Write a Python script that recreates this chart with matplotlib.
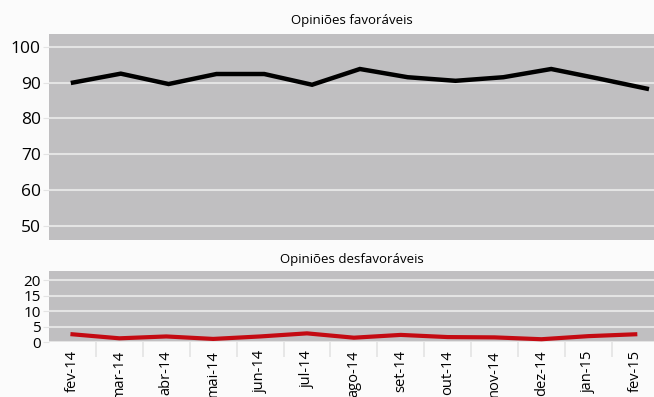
import numpy as np
import matplotlib.pyplot as plt

plt.rcParams['font.family'] = ['Open Sans', 'DejaVu Sans']

# monthly poll results (%)
meses = ["fev-14", "mar-14", "abr-14", "mai-14", "jun-14", "jul-14", "ago-14",
         "set-14", "out-14", "nov-14", "dez-14", "jan-15", "fev-15"]
favoraveis = [90, 92.5, 89.6, 92.4, 92.4, 89.4, 93.8, 91.5, 90.5, 91.5, 93.8, 91.1, 88.3]
desfavoraveis = [2.5, 1.2, 1.8, 1.0, 1.8, 2.8, 1.4, 2.3, 1.6, 1.5, 0.9, 1.9, 2.5]

bg = "#c0bfc1"
grid = "#e4e4e4"
x = np.arange(len(meses))

fig = plt.figure(figsize=(6.54, 3.97), dpi=100)
fig.patch.set_facecolor("#fbfbfb")

ax1 = fig.add_axes([0.075, 0.3955, 0.925, 0.519])
ax2 = fig.add_axes([0.075, 0.1385, 0.925, 0.179])

for ax in (ax1, ax2):
    ax.set_facecolor(bg)
    for s in ax.spines.values():
        s.set_visible(False)
    ax.yaxis.grid(True, color=grid, linewidth=1.5)
    ax.set_axisbelow(True)
    ax.tick_params(axis="y", length=4, color=grid, pad=2)

# favoraveis
ax1.plot(x, favoraveis, color="black", linewidth=3.2, solid_joinstyle="miter")
ax1.set_ylim(46, 103.6)
ax1.set_xlim(-0.5, 12.15)
ax1.set_yticks([50, 60, 70, 80, 90, 100])
ax1.tick_params(axis="y", labelsize=12.5)
ax1.set_xticks([])
ax1.set_title("Opiniões favoráveis", fontsize=9.5, pad=7)

# desfavoraveis
ax2.plot(x, desfavoraveis, color="#c40a12", linewidth=3, solid_joinstyle="round")
ax2.set_ylim(0, 23)
ax2.set_xlim(-0.5, 12.4)
ax2.set_yticks([0, 5, 10, 15, 20])
ax2.tick_params(axis="y", labelsize=11, length=4)
ax2.set_xticks(x)
ax2.set_xticklabels(meses, rotation=90, fontsize=10.5)
ax2.set_xticks(x[:-1] + 0.5, minor=True)
ax2.tick_params(axis="x", which="major", length=0, pad=6)
ax2.tick_params(axis="x", which="minor", length=11, color=grid, width=1.2)
ax2.set_title("Opiniões desfavoráveis", fontsize=9.5, pad=6)

fig.savefig("out.png", dpi=100, facecolor=fig.get_facecolor())
